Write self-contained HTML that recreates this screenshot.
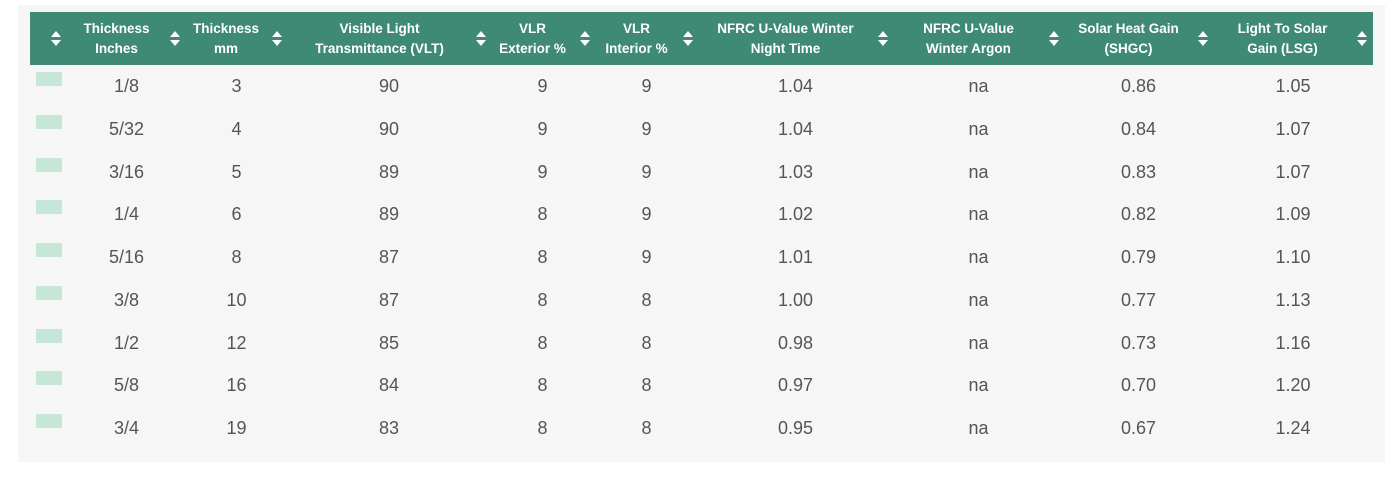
<!DOCTYPE html>
<html><head><style>
body{margin:0;width:1396px;height:493px;background:#fff;font-family:"Liberation Sans",Arial,sans-serif;position:relative;overflow:hidden}
.panel{position:absolute;left:18px;top:5px;width:1367px;height:457px;background:#f6f6f6}
.hdr{position:absolute;left:30px;top:12px;width:1343px;height:53px;background:#3e8a74}
.h{position:absolute;top:12px;height:53px;display:flex;align-items:center;justify-content:center;color:#fff;font-weight:bold;font-size:13.5px;line-height:20px;text-align:center}
.ic{position:absolute;top:30px;width:10px;height:17px}
.d{position:absolute;font-size:18px;color:#555;text-align:center;transform:translateX(-50%);white-space:nowrap}
.sw{position:absolute;left:36px;width:26px;height:14px;background:#c6e7d8}
</style></head><body>
<div class="panel"></div>
<div class="hdr"></div>
<div id="c"></div>
<script>
const b=[30,68,185,288,490,595,698,893,1064,1213,1373];
const H=["","Thickness<br>Inches","Thickness<br>mm","Visible Light<br>Transmittance (VLT)","VLR<br>Exterior %","VLR<br>Interior %","NFRC U-Value Winter<br>Night Time","NFRC U-Value<br>Winter Argon","Solar Heat Gain<br>(SHGC)","Light To Solar<br>Gain (LSG)"];
const icx=[56,175,277,481,585,688,883,1054,1203,1362];
const R=[["1/8",3,90,9,9,"1.04","na","0.86","1.05"],["5/32",4,90,9,9,"1.04","na","0.84","1.07"],["3/16",5,89,9,9,"1.03","na","0.83","1.07"],["1/4",6,89,8,9,"1.02","na","0.82","1.09"],["5/16",8,87,8,9,"1.01","na","0.79","1.10"],["3/8",10,87,8,8,"1.00","na","0.77","1.13"],["1/2",12,85,8,8,"0.98","na","0.73","1.16"],["5/8",16,84,8,8,"0.97","na","0.70","1.20"],["3/4",19,83,8,8,"0.95","na","0.67","1.24"]];
let h="";
for(let i=0;i<10;i++){
 if(i>0)h+=`<div class="h" style="left:${b[i]}px;width:${icx[i]-b[i]-10}px">${H[i]}</div>`;
 h+=`<svg class="ic" style="left:${icx[i]-5}px" viewBox="0 0 10 17"><polygon points="5,1 10,7 0,7" fill="#fff"/><polygon points="5,16 10,10 0,10" fill="#fff"/></svg>`;
}
R.forEach((r,j)=>{const y=76+j*42.75;
 h+=`<div class="sw" style="top:${y-4}px"></div>`;
 r.forEach((v,k)=>{const cx=(b[k+1]+b[k+2])/2;h+=`<div class="d" style="left:${cx}px;top:${y}px">${v}</div>`;});
});
document.getElementById("c").innerHTML=h;
</script>
</body></html>
